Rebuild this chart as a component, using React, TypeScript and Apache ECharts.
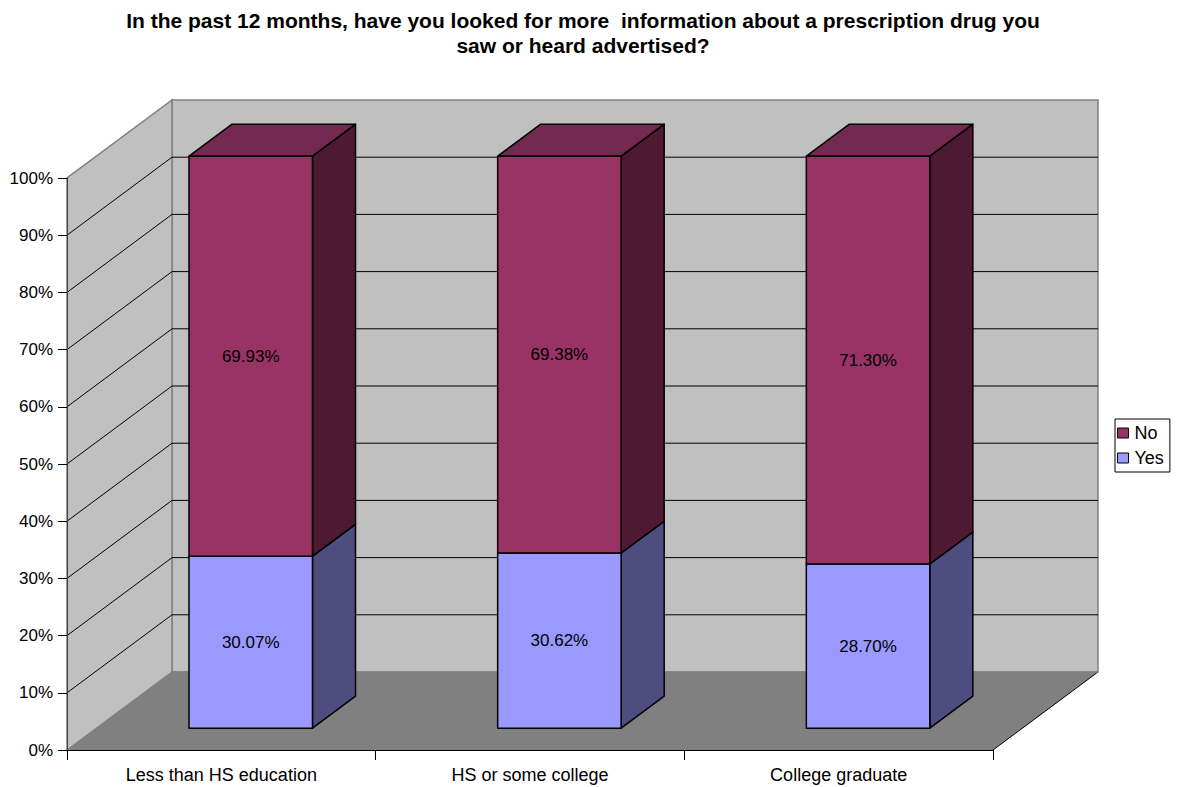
import React, { useEffect, useRef } from "react";
import * as echarts from "echarts";

const TITLE = "In the past 12 months, have you looked for more  information about a prescription drug you\nsaw or heard advertised?";
const CATEGORIES = ["Less than HS education", "HS or some college", "College graduate"];
const YES = [30.07, 30.62, 28.7];
const NO = [69.93, 69.38, 71.3];
const TICKS = [0, 10, 20, 30, 40, 50, 60, 70, 80, 90, 100];

const FONT = "'Liberation Sans', Arial, sans-serif";
const DX = 105;
const DY = -78;
const F0 = 0.28;
const F1 = 0.69;
const BAR_RATIO = 0.4;

function makeBarRenderer(front: string, side: string, top: string) {
  return (params: any, api: any) => {
    const idx = api.value(0);
    const start = api.value(1);
    const end = api.value(2);
    const val = api.value(3);
    const pBot = api.coord([idx, start]);
    const pTop = api.coord([idx, end]);
    const band = api.size([1, 0])[0];
    const w = band * BAR_RATIO;
    const cx = pBot[0] + F0 * DX;
    const xl = cx - w / 2;
    const xr = cx + w / 2;
    const yb = pBot[1] + F0 * DY;
    const yt = pTop[1] + F0 * DY;
    const dx = (F1 - F0) * DX;
    const dy = (F1 - F0) * DY;
    const stroke = { stroke: "#000", lineWidth: 1.5, lineJoin: "round" };
    return {
      type: "group",
      children: [
        {
          type: "polygon",
          shape: { points: [[xr, yt], [xr + dx, yt + dy], [xr + dx, yb + dy], [xr, yb]] },
          style: { fill: side, ...stroke },
        },
        {
          type: "polygon",
          shape: { points: [[xl, yt], [xl + dx, yt + dy], [xr + dx, yt + dy], [xr, yt]] },
          style: { fill: top, ...stroke },
        },
        {
          type: "rect",
          shape: { x: xl, y: yt, width: w, height: yb - yt },
          style: { fill: front, ...stroke },
        },
        {
          type: "text",
          x: (xl + xr) / 2,
          y: (yt + yb) / 2,
          style: {
            text: Number(val).toFixed(2) + "%",
            fill: "#000",
            font: `17px ${FONT}`,
            align: "center",
            verticalAlign: "middle",
          },
        },
      ],
    };
  };
}

function renderWalls(params: any, api: any) {
  const cs = params.coordSys;
  const L = cs.x;
  const R = cs.x + cs.width;
  const y0 = api.coord([0, 0])[1];
  const y100 = api.coord([0, 100])[1];
  const children: any[] = [];
  children.push({
    type: "rect",
    shape: { x: L + DX, y: y100 + DY, width: R - L, height: y0 - y100 },
    style: { fill: "#C0C0C0", stroke: "#808080", lineWidth: 1.5 },
  });
  children.push({
    type: "polygon",
    shape: { points: [[L, y0], [L, y100], [L + DX, y100 + DY], [L + DX, y0 + DY]] },
    style: { fill: "#C0C0C0", stroke: "#808080", lineWidth: 1.5 },
  });
  children.push({
    type: "polygon",
    shape: { points: [[L, y0], [R, y0], [R + DX, y0 + DY], [L + DX, y0 + DY]] },
    style: { fill: "#808080" },
  });
  children.push({
    type: "line",
    shape: { x1: R, y1: y0, x2: R + DX, y2: y0 + DY },
    style: { stroke: "#000", lineWidth: 1 },
  });
  children.push({
    type: "line",
    shape: { x1: L + DX, y1: y0 + DY, x2: R + DX, y2: y0 + DY },
    style: { stroke: "#808080", lineWidth: 1.5 },
  });
  TICKS.forEach((t) => {
    if (t === 0 || t === 100) return;
    const y = api.coord([0, t])[1];
    children.push({
      type: "line",
      shape: { x1: L, y1: y, x2: L + DX, y2: y + DY },
      style: { stroke: "#000", lineWidth: 1 },
    });
    children.push({
      type: "line",
      shape: { x1: L + DX, y1: y + DY, x2: R + DX, y2: y + DY },
      style: { stroke: "#000", lineWidth: 1 },
    });
  });
  return { type: "group", children };
}

export default function App() {
  const ref = useRef<HTMLDivElement>(null);
  useEffect(() => {
    if (!ref.current) return;
    const chart = echarts.init(ref.current, undefined, { renderer: "svg" });
    const yesData = YES.map((v, i) => [i, 0, v, v]);
    const noData = NO.map((v, i) => [i, YES[i], YES[i] + v, v]);
    chart.setOption({
      animation: false,
      backgroundColor: "#fff",
      title: {
        text: TITLE,
        left: 578,
        top: 3,
        textAlign: "center",
        textStyle: { fontFamily: FONT, fontSize: 21, fontWeight: "bold", color: "#000", lineHeight: 25 },
      },
      legend: {
        orient: "vertical",
        left: 1115,
        top: 419,
        data: ["No", "Yes"],
        icon: "rect",
        itemWidth: 11,
        itemHeight: 10,
        itemGap: 5,
        padding: [4, 6, 4, 2],
        borderColor: "#000",
        borderWidth: 1,
        selectedMode: false,
        itemStyle: { borderColor: "#000", borderWidth: 1 },
        textStyle: { fontFamily: FONT, fontSize: 18, lineHeight: 20, color: "#000", padding: [0, 0, 0, 1] },
      },
      grid: { left: 67, right: 187, top: 178, bottom: 37 },
      xAxis: {
        type: "category",
        data: CATEGORIES,
        z: 5,
        axisLine: { lineStyle: { color: "#000", width: 1 } },
        axisTick: { show: true, length: 10, lineStyle: { color: "#000" } },
        axisLabel: { color: "#000", fontFamily: FONT, fontSize: 18, margin: 16 },
        splitLine: { show: false },
      },
      yAxis: {
        type: "value",
        min: 0,
        max: 100,
        interval: 10,
        z: 5,
        axisLine: { show: true, lineStyle: { color: "#404040", width: 1 } },
        axisTick: { show: true, length: 9, lineStyle: { color: "#000" } },
        axisLabel: { color: "#000", fontFamily: FONT, fontSize: 17, margin: 14, formatter: "{value}%" },
        splitLine: { show: false },
      },
      series: [
        {
          name: "walls",
          type: "custom",
          silent: true,
          clip: false,
          z: 1,
          renderItem: renderWalls,
          encode: { x: 0, y: 1 },
          data: [[0, 0]],
        },
        {
          name: "Yes",
          type: "custom",
          clip: false,
          z: 3,
          itemStyle: { color: "#9999FF" },
          renderItem: makeBarRenderer("#9999FF", "#4D4D80", "#7373BF"),
          encode: { x: 0, y: [1, 2] },
          data: yesData,
        },
        {
          name: "No",
          type: "custom",
          clip: false,
          z: 4,
          itemStyle: { color: "#993366" },
          renderItem: makeBarRenderer("#993366", "#4D1933", "#732950"),
          encode: { x: 0, y: [1, 2] },
          data: noData,
        },
      ],
    });
    return () => chart.dispose();
  }, []);
  return <div ref={ref} style={{ position: "absolute", left: 0, top: 0, width: 1180, height: 787 }} />;
}
